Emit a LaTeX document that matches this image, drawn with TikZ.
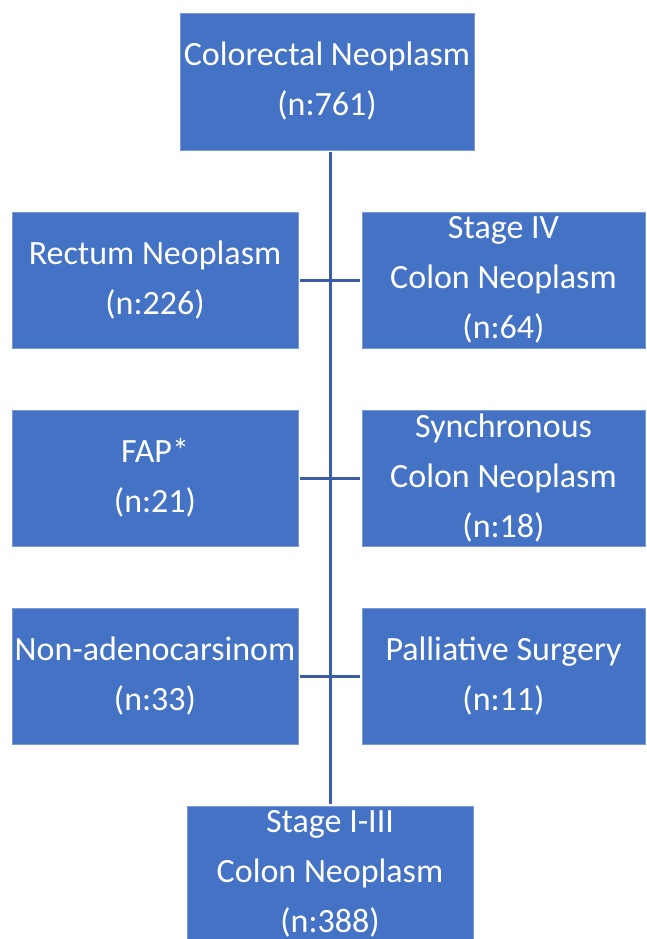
\documentclass[tikz,border=0pt]{standalone}
\usepackage{fontspec}
\setmainfont{Carlito}
\usetikzlibrary{positioning,calc}
\definecolor{boxblue}{HTML}{4472C4}
\definecolor{boxedge}{HTML}{7A9AD8}
\definecolor{linkblue}{HTML}{3A5DA6}

\begin{document}
\begin{tikzpicture}[x=1pt, y=-1pt,
	every node/.style={fill=boxblue, draw=boxedge, line width=0.8pt, text=white, align=center, inner sep=0pt, font=\fontsize{34}{50}\selectfont},
	link/.style={draw=linkblue, line width=3pt, shorten <=2pt, shorten >=2pt}]
	\useasboundingbox (0,0) rectangle (646,939);
	\node[minimum width=294, minimum height=137] (CN) at (327,81.5) {Colorectal Neoplasm\\(n:761)};
	\node[minimum width=286, minimum height=136] (RN) at (155,280) {Rectum Neoplasm\\(n:226)};
	\node[minimum width=283, minimum height=136] (S4) at (503.5,280) {Stage IV\\Colon Neoplasm\\(n:64)};
	\node[minimum width=286, minimum height=136] (FAP) at (155,478) {FAP*\\(n:21)};
	\node[minimum width=283, minimum height=136] (SC) at (503.5,478) {Synchronous\\Colon Neoplasm\\(n:18)};
	\node[minimum width=286, minimum height=136] (NA) at (155,676) {Non-adenocarsinom\\(n:33)};
	\node[minimum width=283, minimum height=136] (PS) at (503.5,676) {Palliative Surgery\\(n:11)};
	\node[minimum width=286, minimum height=136] (S13) at (330,874) {Stage I-III\\Colon Neoplasm\\(n:388)};
	% connectors
	\draw[link] (CN.south -| S13.north) -- (S13.north);
	\draw[link] (RN.east) -- (S4.west);
	\draw[link] (FAP.east) -- (SC.west);
	\draw[link] (NA.east) -- (PS.west);
\end{tikzpicture}
\end{document}
